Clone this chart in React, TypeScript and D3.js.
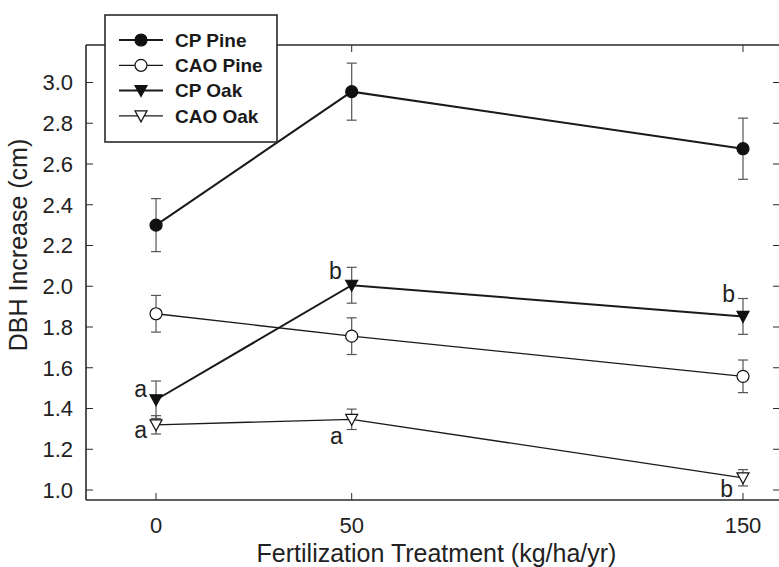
import React from "react";
import * as d3 from "d3";

const treatments = [0, 50, 150];
const seriesNames = ["CP Pine", "CAO Pine", "CP Oak", "CAO Oak"];
const cpPine = [2.3, 2.955, 2.675];
const cpPineSE = [0.13, 0.14, 0.15];
const caoPine = [1.865, 1.755, 1.558];
const caoPineSE = [0.09, 0.09, 0.08];
const cpOak = [1.443, 2.005, 1.852];
const cpOakSE = [0.092, 0.088, 0.088];
const caoOak = [1.32, 1.347, 1.06];
const caoOakSE = [0.045, 0.05, 0.04];
const yTicks = [1.0, 1.2, 1.4, 1.6, 1.8, 2.0, 2.2, 2.4, 2.6, 2.8, 3.0];
const xTicks = [0, 50, 150];
// significance letters: series index, treatment index, letter
const letters = [
  { s: 2, i: 0, t: "a", dx: -9, dy: -3 },
  { s: 3, i: 0, t: "a", dx: -9, dy: 13 },
  { s: 2, i: 1, t: "b", dx: -10, dy: -6 },
  { s: 3, i: 1, t: "a", dx: -9, dy: 25 },
  { s: 2, i: 2, t: "b", dx: -8, dy: -14 },
  { s: 3, i: 2, t: "b", dx: -10, dy: 19 },
];

const means = [cpPine, caoPine, cpOak, caoOak];
const ses = [cpPineSE, caoPineSE, cpOakSE, caoOakSE];
const shapes = ["circle", "circle", "tri", "tri"];
const filled = [true, false, true, false];
const lineW = [2, 1.3, 2, 1.3];

const W = 779, H = 567;
const L = 86, R = 779, T = 45, B = 500;

function Marker({ kind, fill, x, y }: any) {
  if (kind === "circle")
    return <circle cx={x} cy={y} r={6} fill={fill ? "#111" : "#fff"} stroke="#111" strokeWidth={1.2} />;
  const p = `M${x - 6},${y - 5}L${x + 6},${y - 5}L${x},${y + 6}Z`;
  return <path d={p} fill={fill ? "#111" : "#fff"} stroke="#111" strokeWidth={1.2} />;
}

export default function App() {
  const x = d3.scaleLinear().domain([-17.9, 159.2]).range([L, R]);
  const y = d3.scaleLinear().domain([0.951, 3.184]).range([B, T]);
  const line = d3.line<number>().x((_, i) => x(treatments[i])).y((d) => y(d));
  const font = "'Liberation Sans', Arial, sans-serif";
  const axisC = "#2a2a2a";
  const errC = "#555";

  return (
    <svg width={W} height={H} style={{ position: "absolute", left: 0, top: 0, background: "#fff" }} fontFamily={font}>
      <rect x={0} y={0} width={W} height={H} fill="#fff" />
      {/* frame */}
      <line x1={L} x2={R} y1={B} y2={B} stroke={axisC} strokeWidth={1.6} />
      <line x1={L} x2={R} y1={T} y2={T} stroke={axisC} strokeWidth={1.6} />
      <line x1={L} x2={L} y1={T} y2={B} stroke={axisC} strokeWidth={1.6} />
      <line x1={R + 0.8} x2={R + 0.8} y1={T} y2={B} stroke={axisC} strokeWidth={1.6} />
      {/* y ticks */}
      {yTicks.map((v) => (
        <g key={"y" + v}>
          <line x1={L} x2={L + 7} y1={y(v)} y2={y(v)} stroke={axisC} strokeWidth={1} />
          <line x1={R - 6} x2={R} y1={y(v)} y2={y(v)} stroke={axisC} strokeWidth={1} />
          <text x={L - 13} y={y(v)} dy="0.36em" textAnchor="end" fontSize={22} fill="#222">
            {v.toFixed(1)}
          </text>
        </g>
      ))}
      {/* x ticks */}
      {xTicks.map((v) => (
        <g key={"x" + v}>
          <line x1={x(v)} x2={x(v)} y1={B} y2={B - 7} stroke={axisC} strokeWidth={1} />
          <line x1={x(v)} x2={x(v)} y1={T} y2={T + 7} stroke={axisC} strokeWidth={1} />
          <text x={x(v)} y={B + 33} textAnchor="middle" fontSize={22} fill="#222">
            {v}
          </text>
        </g>
      ))}
      {/* axis titles */}
      <text x={(L + R) / 2 + 4} y={B + 62} textAnchor="middle" fontSize={25} fill="#222">
        Fertilization Treatment (kg/ha/yr)
      </text>
      <text transform={`translate(27,245) rotate(-90)`} textAnchor="middle" fontSize={25} fill="#222">
        DBH Increase (cm)
      </text>
      {/* error bars */}
      {means.map((m, s) =>
        m.map((v, i) => {
          const cx = x(treatments[i]);
          const lo = y(v - ses[s][i]);
          const hi = y(v + ses[s][i]);
          return (
            <g key={`e${s}-${i}`} stroke={errC} strokeWidth={1.2}>
              <line x1={cx} x2={cx} y1={lo} y2={hi} />
              <line x1={cx - 5} x2={cx + 5} y1={lo} y2={lo} />
              <line x1={cx - 5} x2={cx + 5} y1={hi} y2={hi} />
            </g>
          );
        })
      )}
      {/* lines */}
      {means.map((m, s) => (
        <path key={"l" + s} d={line(m) || ""} fill="none" stroke="#1a1a1a" strokeWidth={lineW[s]} />
      ))}
      {/* markers */}
      {means.map((m, s) =>
        m.map((v, i) => <Marker key={`m${s}-${i}`} kind={shapes[s]} fill={filled[s]} x={x(treatments[i])} y={y(v)} />)
      )}
      {/* letters */}
      {letters.map((l, k) => (
        <text
          key={"t" + k}
          x={x(treatments[l.i]) + l.dx}
          y={y(means[l.s][l.i]) + l.dy}
          textAnchor="end"
          fontSize={23}
          fill="#222"
        >
          {l.t}
        </text>
      ))}
      {/* legend */}
      <rect x={105} y={15} width={172} height={127} fill="#fff" stroke={axisC} strokeWidth={1.6} />
      {seriesNames.map((n, s) => {
        const ly = 40 + s * 25.3;
        return (
          <g key={"lg" + s}>
            <line x1={119} x2={163} y1={ly} y2={ly} stroke="#1a1a1a" strokeWidth={lineW[s]} />
            <Marker kind={shapes[s]} fill={filled[s]} x={141} y={ly} />
            <text x={175} y={ly + 6.8} fontSize={19} fontWeight="bold" fill="#1a1a1a">
              {n}
            </text>
          </g>
        );
      })}
    </svg>
  );
}
